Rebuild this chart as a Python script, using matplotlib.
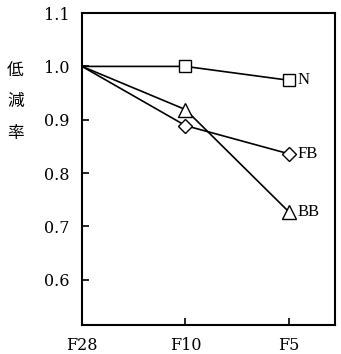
import matplotlib
matplotlib.use('Agg')
import matplotlib.pyplot as plt

cats = ['F28', 'F10', 'F5']
series = ['N', 'FB', 'BB']
n_vals = [1.0, 1.0, 0.974]
fb_vals = [1.0, 0.889, 0.836]
bb_vals = [1.0, 0.919, 0.727]
yticks = [0.6, 0.7, 0.8, 0.9, 1.0, 1.1]

fig = plt.figure(figsize=(3.41, 3.54), dpi=100)
ax = fig.add_axes([0.2405, 0.082, 0.742, 0.881])

x = list(range(len(cats)))
styles = {'N': 's', 'FB': 'D', 'BB': '^'}
sizes = {'N': 8.5, 'FB': 7.5, 'BB': 10}
for name, vals in zip(series, [n_vals, fb_vals, bb_vals]):
    ax.plot(x, vals, color='black', lw=1.2, marker=styles[name], ms=sizes[name],
            mfc='white', mec='black', mew=1.0, markevery=[1, 2])
    ax.text(x[-1] + 0.08, vals[-1], name, fontsize=12, family='Liberation Serif',
            va='center', ha='left')

ax.set_xlim(0, 2.445)
ax.set_ylim(0.515, 1.1)
ax.set_xticks(x)
ax.set_xticklabels(cats, family='DejaVu Serif', fontsize=11.5)
ax.set_yticks(yticks)
ax.set_yticklabels([f'{v:.1f}' for v in yticks], family='DejaVu Serif', fontsize=11.5)
ax.tick_params(direction='in', length=5, width=1.2, pad=9)
ax.tick_params(axis='x', pad=9)
for s in ax.spines.values():
    s.set_linewidth(1.5)

for ch, yy in zip('低減率', [0.80, 0.712, 0.624]):
    fig.text(0.045, yy, ch, fontsize=12, family='Noto Sans CJK JP', ha='center', va='center')

fig.savefig('out.png', dpi=100)
